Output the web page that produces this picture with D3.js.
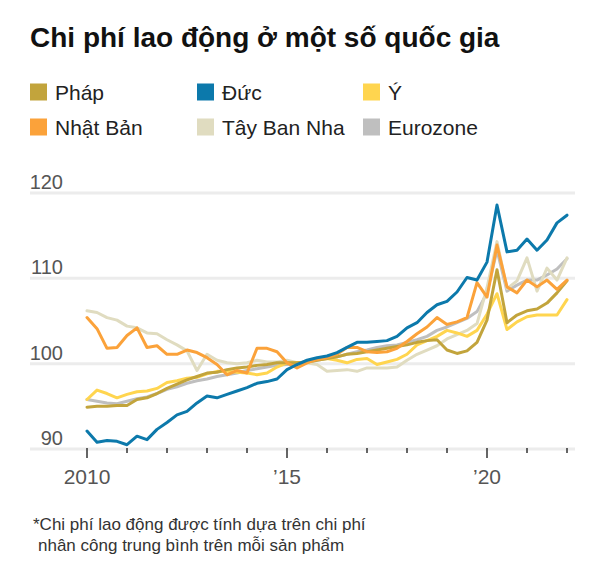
<!DOCTYPE html>
<html><head><meta charset="utf-8">
<script src="https://cdn.jsdelivr.net/npm/d3@7"></script>
<style>
html,body{margin:0;padding:0;background:#fff;}
svg{display:block;font-family:"Liberation Sans",Arial,sans-serif;}
</style></head>
<body>
<svg id="chart" width="600" height="562"></svg>
<script>
// ---- data ----
const title = "Chi phí lao động ở một số quốc gia";
const footnote = ["*Chi phí lao động được tính dựa trên chi phí", "nhân công trung bình trên mỗi sản phẩm"];
const seriesNames = ["Pháp", "Đức", "Ý", "Nhật Bản", "Tây Ban Nha", "Eurozone"];
const seriesColors = ["#c2a43c", "#0c79ab", "#ffd54f", "#fba23a", "#e0dcc0", "#bfbfbf"];
const quarters = d3.range(49).map(i => 2010 + i / 4); // 2010 Q1 ... 2022 Q1
const yTicks = [90, 100, 110, 120];
const xMajorTicks = [2010, 2015, 2020];
const xMajorLabels = ["2010", "\u201915", "\u201920"];
const xMinorTicks = d3.range(2010, 2023);

const france = [94.9,95.0,95.0,95.1,95.1,95.8,96.0,96.5,97.1,97.6,
  98.1,98.5,98.9,99.0,99.3,99.5,99.6,99.8,99.9,100.1,
  100.1,100.1,100.2,100.4,100.6,100.8,101.1,101.2,101.4,101.6,
  101.8,102.0,102.2,102.5,102.7,102.8,101.6,101.2,101.5,102.5,
  105.1,111.0,104.8,105.7,106.2,106.4,107.1,108.3,109.7];
const germany = [92.1,90.8,91.0,90.9,90.5,91.5,91.1,92.3,93.1,94.0,
  94.4,95.4,96.2,96.0,96.4,96.8,97.2,97.7,97.9,98.2,
  99.3,99.9,100.4,100.7,100.9,101.3,101.9,102.5,102.5,102.6,
  102.7,103.2,104.2,104.8,106.0,106.9,107.3,108.4,110.1,109.8,
  111.9,118.6,113.1,113.3,114.6,113.3,114.5,116.5,117.4];
const italy = [95.8,96.9,96.5,96.0,96.4,96.7,96.8,97.1,97.8,98.0,
  98.3,98.4,98.8,99.1,99.1,99.0,98.9,98.7,98.9,99.6,
  100.1,100.1,100.2,100.5,100.6,100.4,100.1,100.5,100.6,99.9,
  100.2,100.5,101.1,102.2,102.7,103.2,103.9,103.6,103.2,103.9,
  105.8,108.2,104.0,104.9,105.5,105.7,105.7,105.7,107.5];
const japan = [105.4,104.1,101.8,101.9,103.3,104.2,101.9,102.1,101.1,101.1,
  101.6,101.3,100.7,99.9,98.7,99.2,98.9,101.8,101.8,101.4,
  100.1,99.5,100.1,100.5,100.7,101.1,101.9,101.9,101.4,101.3,
  101.4,101.8,102.6,103.5,104.3,105.4,104.6,104.9,105.4,109.5,
  107.8,113.9,109.0,108.3,109.8,109.0,109.8,108.7,109.8];
const spain = [106.2,106.0,105.4,105.1,104.4,104.2,103.6,103.5,102.8,102.2,
  101.5,99.2,101.1,100.4,100.1,100.0,100.1,100.4,100.2,100.2,
  100.4,100.1,100.1,99.9,99.1,99.2,99.3,99.1,99.5,99.5,
  99.5,99.6,100.4,101.1,101.6,102.1,102.9,103.4,103.9,104.7,
  108.9,114.3,108.8,109.7,112.4,108.5,111.2,109.8,112.4];
const eurozone = [95.8,95.6,95.4,95.3,95.6,95.9,96.1,96.5,97.0,97.3,
  97.7,98.0,98.2,98.5,98.7,98.9,99.2,99.4,99.6,99.8,
  99.9,100.0,100.1,100.4,100.6,100.8,101.1,101.4,101.6,101.9,
  102.1,102.2,102.5,102.8,103.2,103.9,104.3,104.8,105.3,106.1,
  108.3,113.3,108.5,109.2,109.8,109.8,110.4,111.1,112.3];

const seriesValues = [france, germany, italy, japan, spain, eurozone];
const drawOrder = [5, 4, 2, 0, 3, 1];

// ---- layout ----
const svg = d3.select("#chart");
const x = d3.scaleLinear().domain([2010, 2022]).range([87, 567]);
const y = d3.scaleLinear().domain([90, 120]).range([449, 193]);
const gridLeft = 30, gridRight = 575;

svg.append("text").attr("x", 30).attr("y", 47)
  .attr("font-size", 28).attr("font-weight", "bold").attr("fill", "#111")
  .text(title);

// legend
const legCols = [30, 197, 363], legRows = [92, 127];
seriesNames.forEach((n, i) => {
  const cx = legCols[i % 3], cy = legRows[Math.floor(i / 3)];
  const g = svg.append("g").attr("transform", `translate(${cx},${cy})`);
  g.append("rect").attr("x", 0).attr("y", -8.5).attr("width", 17).attr("height", 17).attr("fill", seriesColors[i]);
  g.append("text").attr("x", 25).attr("y", 7.5).attr("font-size", 21).attr("fill", "#222").text(n);
});

// grid
svg.append("g").selectAll("line").data(yTicks).join("line")
  .attr("x1", gridLeft).attr("x2", gridRight)
  .attr("y1", d => y(d)).attr("y2", d => y(d))
  .attr("stroke", "#ececec").attr("stroke-width", 3);
svg.append("g").selectAll("text").data(yTicks).join("text")
  .attr("x", 63).attr("y", d => y(d) - 4).attr("text-anchor", "end")
  .attr("font-size", 20).attr("fill", "#555").text(d => d);

// x ticks
svg.append("g").selectAll("line").data(xMinorTicks).join("line")
  .attr("x1", d => x(d)).attr("x2", d => x(d))
  .attr("y1", y(90) - 1).attr("y2", d => xMajorTicks.includes(d) ? y(90) + 9 : y(90) + 4)
  .attr("stroke", "#333").attr("stroke-width", 1.5);
svg.append("g").selectAll("text").data(xMajorTicks).join("text")
  .attr("x", d => x(d)).attr("y", 484).attr("text-anchor", "middle")
  .attr("font-size", 21).attr("fill", "#555").text((d, i) => xMajorLabels[i]);

// lines
const line = d3.line().x((d, i) => x(quarters[i])).y(d => y(d));
drawOrder.forEach(k => {
  svg.append("path").datum(seriesValues[k]).attr("d", line)
    .attr("fill", "none").attr("stroke", seriesColors[k])
    .attr("stroke-width", 3).attr("stroke-linejoin", "round").attr("stroke-linecap", "round");
});

// footnote
svg.append("text").attr("x", 33).attr("y", 530).attr("font-size", 17).attr("fill", "#333").text(footnote[0]);
svg.append("text").attr("x", 38).attr("y", 551).attr("font-size", 17).attr("fill", "#333").text(footnote[1]);
</script>
</body></html>
